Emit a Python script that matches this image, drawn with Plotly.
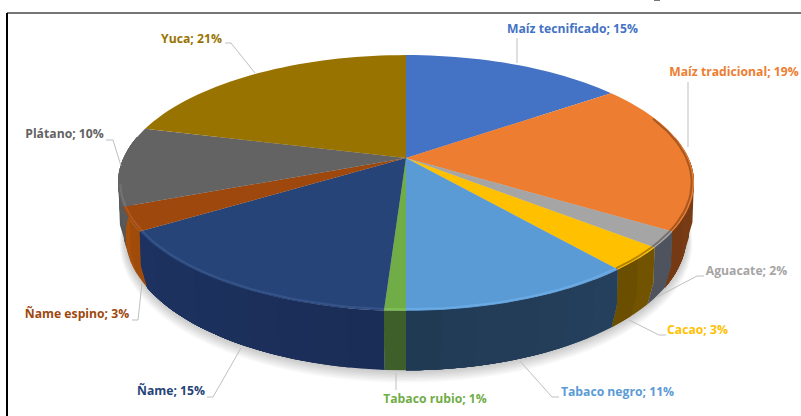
import math
import plotly.graph_objects as go

# ---- data ----
categories = ["Maíz tecnificado", "Maíz tradicional", "Aguacate", "Cacao", "Tabaco negro",
              "Tabaco rubio", "Ñame", "Ñame espino", "Plátano", "Yuca"]
values = [15, 19, 2, 3, 11, 1, 15, 3, 10, 21]

# ---- styles ----
top_colors = ["#4472C4", "#ED7D31", "#A5A5A5", "#FFC000", "#5B9BD5",
              "#70AD47", "#264478", "#9E480E", "#636363", "#997300"]
side_colors = [(40, 70, 125), (125, 62, 22), (80, 84, 94), (112, 82, 0), (36, 62, 90),
               (62, 95, 42), (28, 48, 92), (165, 78, 10), (90, 90, 90), (110, 80, 0)]
label_pos = [(572.5, 30), (734, 73), (746.5, 272), (697.5, 331), (617.5, 393),
             (435, 400), (171, 392), (77, 315), (64.5, 135), (191.5, 40)]
leaders = [[(517, 38), (517, 63)], [(688, 82), (688, 147)], [(704, 276), (697, 276), (657, 297)],
           [(666, 335), (659, 335), (629, 320)], [(559, 397), (552, 397), (520, 361)],
           [(396, 390), (396, 373)], [(207, 397), (213, 397), (241, 348)],
           [(132, 320), (138, 320), (142, 283)], [(106, 140), (113, 140), (121, 166)],
           [(225, 43), (231, 43), (255, 73)]]
FONT = "Open Sans"
CX, CY, A, B, K, DEPTH = 406, 158, 282.5, 123, 0.195, 52


def project(theta_deg, r=1.0, drop=0.0):
    t = math.radians(theta_deg)
    X, Y = r * math.sin(t), r * math.cos(t)
    w = 1 + K * Y
    return CX + A * X / w, CY - B * Y / w + drop / w


def hex_rgb(h):
    return tuple(int(h[i:i + 2], 16) for i in (1, 3, 5))


def poly(pts, color):
    return go.Scatter(x=[p[0] for p in pts], y=[p[1] for p in pts], mode="none", fill="toself",
                      fillcolor=color, hoverinfo="skip", showlegend=False)


fig = go.Figure()
total = sum(values)
bounds = [0.0]
for v in values:
    bounds.append(bounds[-1] + 360.0 * v / total)

# soft shadow beneath the pie
for off in range(9, 0, -1):
    fig.add_trace(poly([project(a, 0.975 + off * 0.0022, DEPTH + off * 0.75) for a in range(0, 361, 3)],
                       "rgba(0,0,0,0.022)"))

# side wall, cut in strips for the shading along the rim; the lower edge is rounded inwards
for i in range(len(values)):
    a0, a1 = bounds[i], bounds[i + 1]
    lo, hi = max(a0, 80), min(a1, 280)
    if hi <= lo:
        continue
    n = max(1, int(round((hi - lo) / 6)))
    for j in range(n):
        s0 = lo + (hi - lo) * j / n
        s1 = hi
        mid = (lo + (hi - lo) * (j + 0.5) / n)
        f = 0.94 + 0.12 * (mid - lo) / (hi - lo) if mid > 180 else 1.05 - 0.12 * (mid - lo) / (hi - lo)
        r, g, b = [min(255, int(c * f)) for c in side_colors[i]]
        m = max(1, int((s1 - s0) / 2.0))
        arc = [s0 + (s1 - s0) * q / m for q in range(m + 1)]
        upper = [project(s) for s in arc]
        middle = project(s1, 0.996, DEPTH * 0.6), project(s0, 0.996, DEPTH * 0.6)
        lower = [project(s, 0.975, DEPTH) for s in reversed(arc)]
        pts = upper + [middle[0]] + lower + [middle[1]]
        fig.add_trace(poly(pts, f"rgb({r},{g},{b})"))

# top face
for i in range(len(values)):
    a0, a1 = bounds[i], bounds[i + 1]
    n = max(2, int((a1 - a0) / 2))
    pts = [project(0, 0)] + [project(a0 + (a1 - a0) * j / n) for j in range(n + 1)]
    fig.add_trace(poly(pts, top_colors[i]))

# bevel on the front rim: dark on the right, lighter on the left
for i in range(len(values)):
    a0, a1 = max(bounds[i], 70), min(bounds[i + 1], 258)
    if a1 <= a0:
        continue
    n = max(2, int((a1 - a0) / 2))
    pts = [project(a0 + (a1 - a0) * j / n, 0.992) for j in range(n + 1)]
    r, g, b = hex_rgb(top_colors[i])
    if a1 <= 176:
        col = "rgba(40,20,0,0.35)"
    else:
        col = f"rgba({min(255, r + 40)},{min(255, g + 40)},{min(255, b + 40)},0.4)"
    fig.add_trace(go.Scatter(x=[p[0] for p in pts], y=[p[1] for p in pts], mode="lines",
                             line=dict(color=col, width=2), hoverinfo="skip", showlegend=False))

# leader lines
for seg in leaders:
    fig.add_trace(go.Scatter(x=[p[0] for p in seg], y=[p[1] for p in seg], mode="lines",
                             line=dict(color="#BFBFBF", width=1), hoverinfo="skip", showlegend=False))

# data labels
for i, name in enumerate(categories):
    fig.add_trace(go.Scatter(x=[label_pos[i][0]], y=[label_pos[i][1]], mode="text",
                             text=[f"<b>{name}; {values[i]}%</b>"], textposition="middle center",
                             textfont=dict(family=FONT, size=12.2, color=top_colors[i]),
                             hoverinfo="skip", showlegend=False))

# frame of the cropped chart, with the remnant of the cut-off title above it
fig.add_trace(go.Scatter(x=[7, 801], y=[13, 13], mode="lines",
                         line=dict(color="#767676", width=2), hoverinfo="skip", showlegend=False))
fig.add_trace(go.Scatter(x=[7, 7], y=[13, 416], mode="lines",
                         line=dict(color="#000000", width=2), hoverinfo="skip", showlegend=False))
fig.add_trace(go.Scatter(x=[654, 660], y=[0.5, 0.5], mode="lines",
                         line=dict(color="#767676", width=1), hoverinfo="skip", showlegend=False))

fig.update_layout(
    width=801, height=416, margin=dict(l=0, r=0, t=0, b=0),
    paper_bgcolor="white", plot_bgcolor="white", showlegend=False,
    xaxis=dict(range=[0, 801], visible=False, fixedrange=True),
    yaxis=dict(range=[416, 0], visible=False, fixedrange=True),
)
fig.write_html("out.html", config={"displayModeBar": False},
               post_script="document.body.style.margin='0';document.body.style.overflow='hidden';")
